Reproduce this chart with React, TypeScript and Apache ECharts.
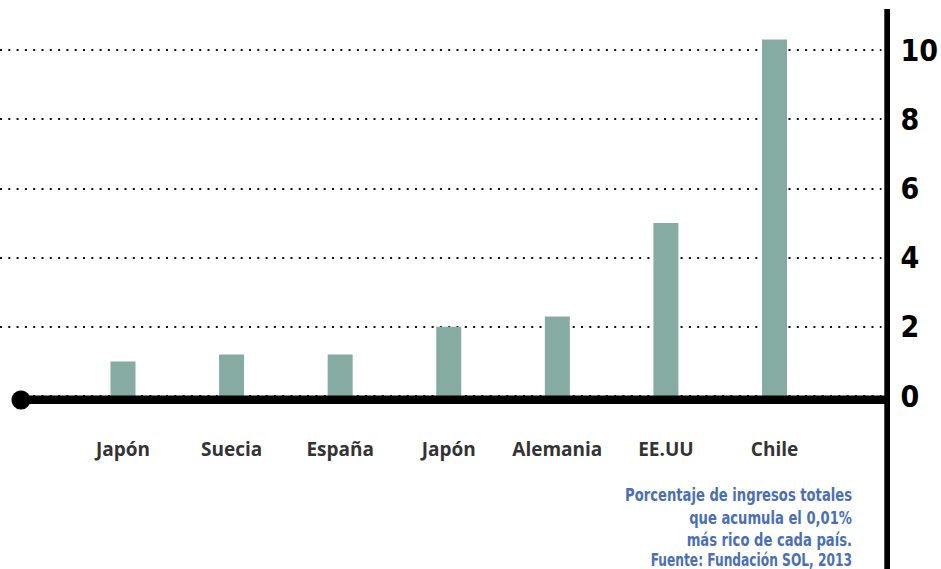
import React, { useEffect, useRef } from "react";
import * as echarts from "echarts";

const categories = ["Japón", "Suecia", "España", "Japón", "Alemania", "EE.UU", "Chile"];
const values = [1.0, 1.2, 1.2, 2.0, 2.3, 5.0, 10.3];
const yTicks = [0, 2, 4, 6, 8, 10];
const noteLines = [
  "Porcentaje de ingresos totales",
  "que acumula el 0,01%",
  "más rico de cada país.",
  "Fuente: Fundación SOL, 2013",
];

const BAR_COLOR = "#86aba2";
const NOTE_COLOR = "#4a6fb6";

export default function App() {
  const ref = useRef<HTMLDivElement>(null);

  useEffect(() => {
    if (!ref.current) return;
    const chart = echarts.init(ref.current, undefined, { renderer: "svg" });
    const top = 50;
    const bottom = 173;
    const noteY = [495, 518, 540, 560];
    const noteScale = [0.86, 0.86, 0.86, 0.8];
    chart.setOption({
      animation: false,
      backgroundColor: "#ffffff",
      grid: [
        { left: 0, right: 55, top, bottom },
        { left: 68.7, right: 112.2, top, bottom },
      ],
      xAxis: [
        { type: "value", gridIndex: 0, min: 0, max: 1, show: false },
        {
          type: "category",
          gridIndex: 1,
          data: categories,
          axisLine: { show: false },
          axisTick: { show: false },
          axisLabel: {
            interval: 0,
            margin: 43,
            fontFamily: "Open Sans",
            fontWeight: "bold",
            fontSize: 19,
            color: "#333333",
          },
        },
      ],
      yAxis: [
        {
          type: "value",
          gridIndex: 0,
          position: "right",
          min: yTicks[0],
          max: yTicks[yTicks.length - 1],
          interval: 2,
          axisLine: { show: false },
          axisTick: { show: false },
          axisLabel: {
            margin: 19,
            align: "left",
            fontFamily: "DejaVu Sans Condensed",
            fontWeight: "bold",
            fontSize: 30,
            color: "#000000",
          },
          splitLine: {
            show: true,
            lineStyle: { color: "#111111", width: 2, type: [2, 6.3] },
          },
        },
        {
          type: "value",
          gridIndex: 1,
          min: yTicks[0],
          max: yTicks[yTicks.length - 1],
          interval: 2,
          show: false,
        },
      ],
      series: [
        {
          type: "bar",
          xAxisIndex: 1,
          yAxisIndex: 1,
          data: values,
          barWidth: 25,
          clip: false,
          itemStyle: { color: BAR_COLOR },
        },
      ],
      graphic: [
        {
          type: "rect",
          shape: { x: 0, y: 392, width: 14, height: 8 },
          style: { fill: "#ffffff" },
          z: 99,
        },
        {
          type: "rect",
          shape: { x: 20, y: 395.5, width: 867, height: 8.5 },
          style: { fill: "#000000" },
          z: 100,
        },
        {
          type: "circle",
          shape: { cx: 21, cy: 400, r: 9.5 },
          style: { fill: "#000000" },
          z: 100,
        },
        {
          type: "rect",
          shape: { x: 884.3, y: 9, width: 5.7, height: 570 },
          style: { fill: "#000000" },
          z: 100,
        },
        ...noteLines.map((t, i) => ({
          type: "text",
          x: 852,
          y: noteY[i],
          scaleX: noteScale[i],
          style: {
            text: t,
            align: "right",
            verticalAlign: "middle",
            fill: NOTE_COLOR,
            font: "bold 17px 'DejaVu Sans Condensed', sans-serif",
          },
          z: 100,
        })),
      ],
    });
    return () => chart.dispose();
  }, []);

  return (
    <div
      ref={ref}
      style={{ position: "fixed", left: 0, top: 0, width: 941, height: 569 }}
    />
  );
}
